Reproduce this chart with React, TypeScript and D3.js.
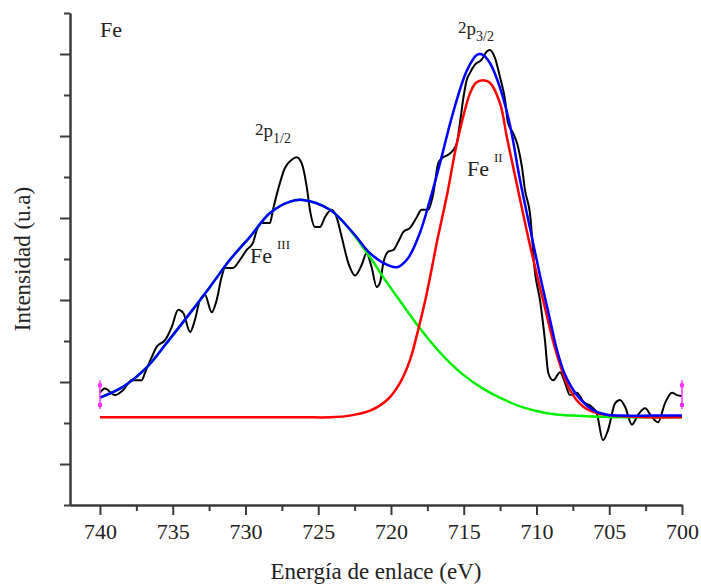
import { useEffect, useRef } from "react";
import * as d3 from "d3";

// XPS Fe 2p spectrum, binding energy (eV) vs intensity (arbitrary units)
const energyTicks = [740, 735, 730, 725, 720, 715, 710, 705, 700];
const energyMinorTicks = [737.5, 732.5, 727.5, 722.5, 717.5, 712.5, 707.5, 702.5];
const intensityMajorTicks = [0.5, 1.5, 2.5, 3.5, 4.5, 5.5];
const intensityMinorTicks = [0, 1, 2, 3, 4, 5, 6];

// measured spectrum (black)
const spectrum: [number, number][] = [
  [740.0, 1.37], [739.66, 1.42], [738.97, 1.34], [738.42, 1.4], [737.82, 1.52], [737.13, 1.52],
  [736.91, 1.61], [736.45, 1.8], [736.1, 1.93], [735.53, 2.01], [735.07, 2.17], [734.62, 2.38],
  [734.27, 2.34], [733.81, 2.11], [733.47, 2.26], [733.13, 2.5], [732.78, 2.56], [732.32, 2.35],
  [731.98, 2.5], [731.64, 2.78], [731.41, 2.89], [730.86, 2.89], [730.38, 2.99], [729.92, 3.11],
  [729.48, 3.2], [729.23, 3.35], [728.89, 3.44], [728.32, 3.44], [728.11, 3.6], [727.77, 3.84],
  [727.29, 4.11], [726.82, 4.21], [726.49, 4.24], [726.14, 4.17], [725.79, 3.88], [725.57, 3.6],
  [725.22, 3.39], [724.88, 3.39], [724.54, 3.51], [724.08, 3.6], [723.74, 3.51], [723.39, 3.27],
  [722.93, 2.95], [722.47, 2.8], [722.01, 2.93], [721.68, 3.07], [721.33, 2.9], [720.99, 2.66],
  [720.76, 2.71], [720.53, 2.95], [720.19, 3.09], [719.84, 3.11], [719.5, 3.21], [719.15, 3.33],
  [718.69, 3.38], [718.23, 3.51], [717.9, 3.6], [717.44, 3.6], [717.09, 3.8], [716.75, 4.17],
  [716.41, 4.24], [716.08, 4.27], [715.72, 4.33], [715.48, 4.41], [715.26, 4.66], [715.03, 4.96],
  [714.8, 5.18], [714.57, 5.27], [714.23, 5.37], [713.77, 5.43], [713.42, 5.53], [713.2, 5.55],
  [712.85, 5.45], [712.51, 5.22], [712.16, 4.94], [711.96, 4.66], [711.62, 4.54], [711.27, 4.37],
  [711.0, 4.12], [710.79, 3.84], [710.45, 3.56], [710.1, 2.83], [709.76, 2.5], [709.42, 2.01],
  [709.19, 1.61], [708.85, 1.52], [708.38, 1.62], [708.04, 1.49], [707.7, 1.34], [707.24, 1.37],
  [706.78, 1.26], [706.21, 1.2], [705.86, 1.12], [705.43, 0.79], [705.09, 0.91], [704.6, 1.24],
  [704.26, 1.28], [703.92, 1.2], [703.44, 0.98], [703.02, 1.1], [702.54, 1.18], [702.06, 1.07],
  [701.65, 1.01], [701.17, 1.24], [700.69, 1.37], [700.34, 1.34], [700.0, 1.33],
];

// envelope of the fit (blue)
const fitSum: [number, number][] = [
  [740.0, 1.31], [738.42, 1.44], [736.77, 1.68], [735.4, 1.98], [733.81, 2.34], [732.44, 2.66],
  [731.07, 2.99], [729.69, 3.27], [728.32, 3.56], [726.94, 3.7], [726.05, 3.72], [724.19, 3.6],
  [722.61, 3.32], [721.44, 3.07], [720.27, 2.93], [719.59, 2.9], [718.83, 3.01], [718.01, 3.32],
  [717.32, 3.72], [716.63, 4.17], [715.74, 4.78], [714.78, 5.3], [714.09, 5.49], [713.68, 5.49],
  [713.2, 5.39], [712.51, 5.09], [711.82, 4.63], [711.13, 3.96], [710.45, 3.38], [709.76, 2.8],
  [709.07, 2.26], [708.59, 1.89], [708.04, 1.59], [707.22, 1.34], [706.12, 1.16], [705.15, 1.1],
  [704.26, 1.09], [702, 1.09], [700.0, 1.09],
];

// Fe II component (red)
const feII: [number, number][] = [
  [740.0, 1.07], [735, 1.07], [730, 1.07], [726, 1.07], [724.19, 1.07], [722.82, 1.09],
  [721.44, 1.15], [720.27, 1.28], [719.38, 1.49], [718.69, 1.77], [718.14, 2.13], [717.59, 2.54],
  [717.18, 2.9], [716.84, 3.21], [716.15, 3.78], [715.46, 4.42], [714.57, 5.02], [714.16, 5.15],
  [713.68, 5.18], [713.2, 5.15], [712.51, 4.9], [712.03, 4.48], [711.41, 3.96], [710.45, 3.17],
  [709.55, 2.5], [708.59, 1.83], [707.7, 1.4], [706.8, 1.2], [705.84, 1.12], [704.74, 1.09],
  [702.5, 1.07], [700.0, 1.07],
];

// Fe III component (green)
const feIII: [number, number][] = [
  [740.0, 1.31], [738.42, 1.44], [736.77, 1.68], [735.4, 1.98], [733.81, 2.34], [732.44, 2.66],
  [731.07, 2.99], [729.69, 3.27], [728.32, 3.56], [726.94, 3.7], [726.05, 3.72], [724.19, 3.6],
  [722.61, 3.31], [721.92, 3.14], [721.24, 2.97], [720.5, 2.77], [719.59, 2.54], [718.9, 2.37],
  [718.21, 2.2], [717.32, 2.0], [716.15, 1.77], [715.05, 1.59], [713.68, 1.42], [712.3, 1.29],
  [710.93, 1.19], [709.28, 1.12], [707.49, 1.09], [704.74, 1.07], [702.5, 1.07], [700.0, 1.07],
];

// fit range markers (magenta)
const markerEnergy = [740, 700];
const markerLow = [1.17, 1.17];
const markerHigh = [1.52, 1.52];
const markerDots = [1.22, 1.46];

const serif = "Tinos, 'Liberation Serif', 'Nimbus Roman', 'Nimbus Roman No9 L', FreeSerif, 'Noto Serif', 'DejaVu Serif', 'Times New Roman', Times, serif";

export default function App() {
  const svgRef = useRef<SVGSVGElement>(null);

  useEffect(() => {
    document.body.style.margin = "0";
    const svg = d3.select(svgRef.current);
    svg.selectAll("*").remove();

    const x = d3.scaleLinear().domain([742.06, 700]).range([70, 682]);
    const y = d3.scaleLinear().domain([0, 6]).range([505, 13]);

    const axisColor = "#3a3a3a";

    // x axis
    const gxMinor = svg.append("g").attr("transform", "translate(0,505)")
      .call(d3.axisBottom(x).tickValues(energyMinorTicks).tickSize(6).tickSizeOuter(0).tickFormat(() => ""));
    const gx = svg.append("g").attr("transform", "translate(0,505)")
      .call(d3.axisBottom(x).tickValues(energyTicks).tickSize(10).tickSizeOuter(0).tickPadding(8).tickFormat(d3.format("d")));
    // y axis
    const gyMinor = svg.append("g").attr("transform", "translate(70,0)")
      .call(d3.axisLeft(y).tickValues(intensityMinorTicks).tickSize(6).tickSizeOuter(0).tickFormat(() => ""));
    const gy = svg.append("g").attr("transform", "translate(70,0)")
      .call(d3.axisLeft(y).tickValues(intensityMajorTicks).tickSize(10).tickSizeOuter(0).tickFormat(() => ""));

    [gxMinor, gx, gyMinor, gy].forEach(g => {
      g.attr("font-family", null);
      g.selectAll("path, line").attr("stroke", axisColor).attr("stroke-width", 2);
    });
    gx.selectAll("text").style("font-family", serif).attr("font-size", 22).attr("fill", "#222");

    const line = d3.line<[number, number]>()
      .x(d => x(d[0]))
      .y(d => y(d[1]))
      .curve(d3.curveMonotoneX);
    const smooth = d3.line<[number, number]>()
      .x(d => x(d[0]))
      .y(d => y(d[1]))
      .curve(d3.curveCatmullRom.alpha(0.5));

    svg.append("path").datum(spectrum).attr("fill", "none").attr("stroke", "#000").attr("stroke-width", 2).attr("d", line);
    svg.append("path").datum(feIII).attr("fill", "none").attr("stroke", "#00ee00").attr("stroke-width", 2.5).attr("d", smooth);
    svg.append("path").datum(feII).attr("fill", "none").attr("stroke", "#ff0000").attr("stroke-width", 2.5).attr("d", smooth);
    svg.append("path").datum(fitSum).attr("fill", "none").attr("stroke", "#0000ff").attr("stroke-width", 2.5).attr("d", smooth);

    // fit range markers
    const markers = svg.append("g").attr("fill", "#ff33ff").attr("stroke", "#ff33ff");
    markerEnergy.forEach((e, i) => {
      markers.append("line")
        .attr("x1", x(e)).attr("x2", x(e))
        .attr("y1", y(markerLow[i])).attr("y2", y(markerHigh[i]))
        .attr("stroke-width", 1.5);
      markerDots.forEach(v => {
        markers.append("rect")
          .attr("x", x(e) - 2).attr("y", y(v) - 2)
          .attr("width", 4).attr("height", 4).attr("stroke", "none");
      });
    });

    // labels
    const txt = svg.append("g").style("font-family", serif).attr("fill", "#222");
    txt.append("text").attr("x", 100).attr("y", 37).attr("font-size", 22).text("Fe");

    const orbital = (px: number, py: number, sub: string) => {
      const t = txt.append("text").attr("x", px).attr("y", py).attr("font-size", 17).text("2");
      t.append("tspan").attr("font-size", 19).attr("dy", 2).text("p");
      t.append("tspan").attr("font-size", 14).attr("dy", 6).text(sub);
    };
    orbital(255, 135, "1/2");
    orbital(458, 33, "3/2");

    const ion = (px: number, py: number, sup: string) => {
      const t = txt.append("text").attr("x", px).attr("y", py).attr("font-size", 22).text("Fe");
      t.append("tspan").attr("font-size", 13).attr("dx", 5).attr("dy", -14).text(sup);
    };
    ion(250, 263, "III");
    ion(467, 176, "II");

    txt.append("text").attr("x", 376).attr("y", 579).attr("text-anchor", "middle")
      .attr("font-size", 23).text("Energía de enlace (eV)");
    txt.append("text").attr("transform", "translate(30,259) rotate(-90)").attr("text-anchor", "middle")
      .attr("font-size", 23).text("Intensidad (u.a)");
  }, []);

  return <svg ref={svgRef} width={701} height={586} style={{ display: "block" }} />;
}
